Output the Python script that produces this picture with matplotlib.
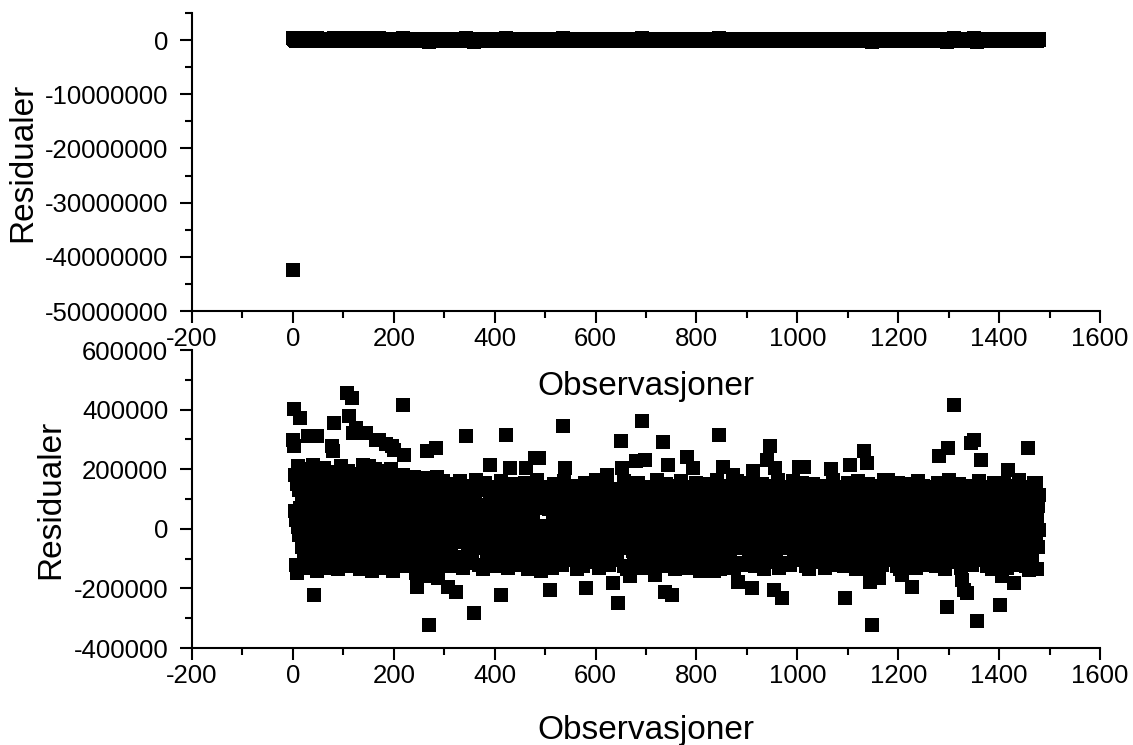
import numpy as np
import matplotlib
matplotlib.use("Agg")
import matplotlib.pyplot as plt
from matplotlib.ticker import MultipleLocator, FormatStrFormatter

plt.rcParams['font.family'] = ['Liberation Sans', 'DejaVu Sans']
plt.rcParams['axes.unicode_minus'] = False

# residualer (i tusen), observasjon 1..1480, lest av bildet (kjernen av baandet)
res_001_300 = [
    12, 95, -40, 180, 60, -120, 30, 150, -80, 210, 5, -20, 130, 70, -135, 45, 190, -60, 100, -10,
    160, -95, 25, 85, -130, 200, 40, -55, 115, 0, -110, 175, 65, -30, 140, 20, -85, 105, 215, -125,
    50, 125, -70, 15, 185, -45, 90, -140, 155, 35, -15, 110, -100, 195, 75, -65, 10, 145, -120, 60,
    205, -35, 120, -90, 40, 170, -5, 80, -130, 135, 55, -75, 190, 25, -50, 100, -115, 160, 30, -25,
    140, 70, -105, 180, 5, -60, 115, 45, -135, 95, 165, -20, 60, -95, 210, 15, -40, 130, 85, -125,
    25, 175, -80, 110, -30, 150, 65, -120, 195, 0, -55, 135, 90, -100, 40, 185, -15, 120, -70, 55,
    160, -40, 80, -125, 205, 30, -65, 145, 10, -95, 115, 50, -135, 170, 75, -10, 100, -85, 190, 20,
    -50, 130, 60, -110, 180, 5, -75, 155, 95, -30, 210, -120, 45, 125, -5, 85, -140, 165, 35, -60,
    105, -90, 200, 15, -45, 140, 70, -115, 175, 25, -20, 120, -80, 55, 195, -35, 90, -130, 150, 0,
    65, -105, 185, 40, -70, 115, 10, -125, 160, 80, -25, 135, -95, 200, 30, -55, 100, 50, -140, 170,
    20, 145, -60, 95, -115, 170, 35, -20, 120, -85, 60, 155, -40, 5, 130, -105, 80, 180, -70, 45,
    -10, 110, -125, 150, 25, -50, 90, 140, -90, 15, 165, -30, 70, -120, 125, 50, -5, 100, -75, 175,
    35, -100, 135, 60, -45, 160, 0, -130, 115, 85, -15, 145, -65, 30, 105, -110, 170, 40, -35, 95,
    150, -80, 20, 125, -55, 75, 165, -25, 10, -95, 140, 55, -120, 110, 45, -40, 155, -70, 90, 5,
    -115, 130, 65, -10, 175, -85, 30, 100, -50, 145, 15, -125, 80, 120, -35, 60, 160, -100, 40, 115,
]
res_301_600 = [
    40, -30, 75, 95, 10, 120, 55, -60, 30, 85, -15, 20, 60, -85, 105, 45, 0, 70, -45, 35,
    90, -20, 15, 65, -55, 40, 135, -5, 25, 80, 50, -95, 60, 100, 30, -35, 5, 110, -10, 50,
    -25, 70, 100, 0, 35, 55, -75, 125, 20, -40, 85, 45, -50, 15, 95, 60, -20, 65, 80, -105,
    55, 105, 25, -65, 75, 30, 50, -30, 90, 40, -10, 140, 15, -55, 60, 80, -25, 20, 5, 70,
    115, -45, 45, 20, -80, 95, 35, 10, 65, -35, 85, 30, -60, 75, 0, 50, 105, -15, 25, -70,
    60, 85, -20, 10, 100, -50, 40, 75, 15, 35, -40, 65, 130, -90, 55, 20, 90, -30, 45, 5,
    -60, 30, 80, 55, -10, 120, 25, -70, 70, 45, -35, 95, 0, 60, -100, 85, 30, -15, 50, 75,
    25, -45, 110, 40, 5, 70, -75, 35, 90, 55, -25, 15, 100, -55, 45, 80, -5, 20, 65, -40,
    95, 20, -65, 60, 35, -15, 85, 125, -50, 10, 70, -85, 45, 90, 0, 30, -30, 75, 55, -20,
    5, 85, 50, -80, 105, 25, -35, 60, 80, -5, 40, -60, 135, 15, -45, 70, 30, 10, 95, -70,
    75, -25, 35, 100, -55, 20, 65, -90, 50, 115, -10, 5, 85, -40, 60, 30, -65, 105, 45, 0,
    -35, 60, 90, 10, -70, 80, 40, -5, 120, 50, -50, 70, 20, -30, 95, 55, -95, 35, 65, 15,
    50, -60, 20, 110, 40, -15, 75, -45, 100, 25, 5, 60, -75, 85, 45, 10, -35, 130, 30, -50,
    85, 35, -40, 65, -5, 115, 15, -70, 55, 95, -25, 45, -85, 70, 20, 105, -10, 50, -55, 60,
    -10, 100, 55, -75, 25, 80, -35, 10, 125, -50, 65, 40, 0, 90, -80, 45, 75, -20, 5, 95,
]
res_601_900 = [
    45, -85, 90, 25, -25, 70, 110, -45, 35, 60, -5, 95, -65, 15, 80, 50, -40, 140, 0, -55,
    75, 30, -55, 105, 45, 5, 65, -90, 85, 40, -20, 55, 100, -60, 20, 75, -30, 50, 0, 90,
    -40, 60, 20, 120, -70, 35, 80, -10, 50, 95, -55, 10, 70, 45, -25, 110, -80, 25, 65, 85,
    5, 85, -35, 55, 95, -65, 30, 75, 0, 130, -50, 40, 65, -75, 20, 100, -15, 45, 80, -40,
    100, -5, 50, -60, 75, 35, -30, 115, 15, -90, 60, 90, -20, 45, -55, 70, 20, 105, 0, 55,
    -25, 75, 110, -45, 25, 60, -70, 85, 40, 0, 95, -60, 20, 65, 120, -35, 35, -85, 80, 50,
    65, -15, 35, 90, -55, 10, 135, -40, 55, 70, -75, 30, 100, -20, 80, 45, -65, 5, 60, 105,
    -5, 95, -50, 25, 70, -30, 100, 50, -80, 40, 75, -15, 60, 115, -60, 15, 85, -40, 35, 65,
    80, 45, -65, 125, -10, 55, 30, -85, 90, 65, -25, 50, -55, 75, 0, 105, -35, 25, 90, -5,
    55, -40, 80, 35, 110, -70, 20, 60, -20, 85, 45, -55, 130, 10, -30, 70, 95, -90, 40, 50,
    105, 5, -45, 65, -15, 90, 35, -65, 80, 50, -5, 120, -75, 30, 60, -35, 75, 100, -25, 15,
    -55, 85, 45, 0, 100, -40, 60, 20, -80, 90, 40, -20, 70, 115, -60, 30, 50, -10, 80, -30,
    30, 65, -70, 105, 10, -25, 85, 55, -45, 125, 25, -90, 60, 95, -15, 40, -40, 70, 110, 0,
    90, -20, 55, -60, 75, 40, -5, 120, -75, 35, 65, 85, -35, 15, 100, -65, 50, 60, -10, 80,
    -45, 15, 105, 70, -25, 50, 90, -60, 25, 65, -40, 135, 35, -85, 80, 55, -15, 95, 0, -50,
]
res_901_1200 = [
    70, 100, -10, 40, -65, 85, 30, -30, 115, 60, -80, 10, 80, -45, 35, 95, -20, 55, 75, -70,
    20, -35, 80, 110, -55, 30, 65, -5, 90, -75, 45, 125, -25, 5, 75, -60, 60, 85, 35, -15,
    105, 50, -70, 20, 95, -20, 55, 75, -45, 40, -85, 130, 25, -5, 70, 90, -40, 35, -55, 60,
    -15, 75, 35, -50, 115, 15, 85, -35, 50, 100, -65, 30, 60, -10, 105, 45, -80, 80, 10, 90,
    50, -60, 95, 65, -5, 35, -45, 120, 25, 75, -25, 55, -75, 90, 5, -30, 70, 110, -55, 30,
    85, 10, -30, 100, 55, -70, 40, 80, -15, 125, -45, 30, 65, -85, 85, 50, 0, 95, -40, 20,
    -65, 60, 115, 30, -20, 75, -50, 45, 90, -5, 65, 105, -35, 15, 80, -75, 55, 35, -10, 135,
    40, -40, 70, 90, -60, 20, 100, -25, 55, 5, -80, 95, 45, -5, 120, 65, -50, 25, 75, -30,
    95, -10, 50, -75, 80, 40, -35, 110, 10, 65, -55, 85, 30, -20, 105, -65, 55, 70, 0, 35,
    -85, 75, 25, 115, -30, 60, 90, -45, 15, 70, 45, -70, 100, -15, 50, 85, -40, 5, 65, 125,
    30, 120, -55, 45, 75, -5, 90, -80, 40, 100, -35, 60, 20, -65, 95, 50, -20, 80, 0, -45,
    65, -25, 105, 15, -50, 85, 40, -75, 130, 55, -10, 35, 90, -60, 70, 10, -35, 110, 50, -5,
    -30, 95, 55, -70, 40, 115, -20, 65, 5, 85, -55, 45, 75, -90, 25, 100, -30, 60, 95, -45,
    80, 20, -60, 70, 105, -35, 30, 125, -10, 50, -80, 90, 40, -40, 65, 110, 0, 30, -65, 75,
    40, -50, 90, -5, 65, 100, -70, 45, 20, -30, 120, 55, -55, 80, 10, -20, 105, 40, -85, 70,
]
res_1201_1480 = [
    115, -5, 45, 85, -65, 30, 70, -40, 105, 5, -90, 60, 95, -25, 50, 25, -55, 80, 130, -15,
    -45, 70, 100, -20, 15, 90, -75, 55, 40, -10, 100, 70, -60, 35, 120, -35, 50, 85, 0, -70,
    60, 95, -30, 25, 115, -55, 80, 45, -5, 105, -45, 30, 70, -80, 90, 55, -20, 10, 100, -40,
    20, -70, 75, 110, -15, 50, -50, 100, 35, 85, -30, 125, 0, -65, 60, 90, -25, 45, -90, 70,
    100, 40, -45, 65, 10, -80, 115, 50, -20, 85, -55, 30, 95, 0, 60, -35, 75, 105, -70, 45,
    -25, 80, 25, -60, 100, 55, -10, 120, -40, 45, 70, -75, 90, 15, -30, 65, 105, -50, 35, 85,
    50, -85, 110, 40, -5, 75, -45, 90, 5, 130, -65, 35, 65, -20, 95, 50, -35, 80, -55, 20,
    95, -20, 60, 85, -70, 30, 115, -30, 55, -5, 80, 105, -55, 40, -45, 70, 10, -80, 90, 45,
    0, 110, -50, 35, 65, -30, 90, 50, -75, 80, 20, -15, 105, 60, -60, 45, 100, -40, 15, 75,
    70, 25, -65, 95, 45, -85, 75, 115, -25, 0, 85, -45, 40, 125, -10, 60, -70, 30, 100, -35,
    45, 90, -20, 55, 110, -60, 10, 75, -40, 100, 35, -80, 85, 120, -30, 50, -5, 95, -55, 25,
    -70, 65, 105, 20, -35, 80, 50, -10, 115, -60, 40, 95, 0, 70, -85, 60, 30, 125, -45, 75,
    90, -45, 15, 110, 45, -25, 70, -65, 100, 25, 85, -35, 60, -5, 120, -75, 40, 90, 5, -20,
    60, 105, -40, 35, -80, 95, 70, -15, 50, 130, -55, 10, 80, -30, 100, 40, -60, 75, 115, -5,
]

# kanten av baandet (observasjon, residual i tusen)
upper_edge_obs = [311, 320, 331, 342, 350, 363, 372, 381, 393, 401, 412, 422, 433, 441, 452, 461,
                  470, 483, 494, 506, 517, 524, 538, 549, 560, 570, 579, 591, 601, 611, 618, 631,
                  640, 656, 665, 673, 684, 701, 711, 721, 729, 740, 749, 762, 770, 779, 791, 800,
                  811, 820, 828, 841, 850, 862, 869, 880, 891, 899, 908, 920, 929, 939, 951, 961,
                  973, 981, 991, 999, 1010, 1020, 1031, 1040, 1050, 1060, 1071, 1080, 1091, 1100,
                  1110, 1121, 1130, 1141, 1150, 1160, 1170, 1180, 1190, 1200, 1211, 1220, 1230,
                  1240, 1250, 1260, 1270, 1279, 1290, 1300, 1312, 1321, 1330, 1341, 1350, 1360,
                  1370, 1381, 1390, 1400, 1410, 1420, 1431, 1440, 1450, 1461, 1470]
upper_edge_val = [150, 135, 160, 125, 145, 165, 130, 155, 140, 120, 160, 135, 150, 125, 145, 155,
                  130, 165, 140, 120, 150, 135, 160, 125, 145, 130, 155, 140, 165, 120, 150, 135,
                  125, 160, 145, 130, 155, 120, 140, 165, 135, 150, 125, 145, 160, 130, 140, 155,
                  120, 150, 135, 165, 125, 145, 130, 160, 140, 120, 155, 135, 150, 125, 145, 165,
                  130, 140, 160, 120, 155, 135, 150, 125, 145, 130, 165, 140, 120, 155, 135, 160,
                  125, 150, 145, 130, 140, 165, 120, 155, 135, 150, 125, 160, 145, 130, 140, 155,
                  120, 165, 135, 150, 125, 145, 130, 160, 140, 120, 155, 135, 150, 125, 145, 165,
                  130, 140, 155]
lower_edge_obs = [306, 317, 325, 338, 346, 355, 369, 377, 386, 398, 404, 419, 427, 436, 448, 455,
                  467, 474, 486, 497, 503, 514, 526, 533, 547, 555, 564, 576, 588, 596, 607, 613,
                  627, 639, 642, 657, 663, 676, 687, 694, 706, 715, 727, 733, 745, 758, 766, 774,
                  785, 797, 803, 816, 822, 838, 846, 857, 866, 875, 888, 894, 905, 917, 926, 934,
                  947, 958, 964, 977, 986, 994, 1006, 1018, 1024, 1037, 1045, 1054, 1068, 1076,
                  1087, 1093, 1104, 1117, 1126, 1135, 1143, 1156, 1167, 1176, 1184, 1197, 1203,
                  1216, 1224, 1236, 1245, 1253, 1267, 1275, 1284, 1293, 1305, 1317, 1324, 1335,
                  1346, 1358, 1367, 1375, 1386, 1394, 1408, 1415, 1426, 1437, 1445, 1454, 1466, 1475]
lower_edge_val = [-110, -125, -100, -130, -115, -95, -120, -135, -105, -125, -110, -100, -130, -115,
                  -120, -95, -135, -105, -125, -110, -100, -130, -115, -120, -95, -105, -135, -125,
                  -110, -100, -130, -115, -120, -95, -105, -125, -135, -110, -100, -130, -115, -120,
                  -95, -125, -105, -135, -110, -100, -130, -115, -120, -95, -105, -125, -135, -110,
                  -100, -130, -115, -120, -95, -125, -105, -135, -110, -100, -130, -115, -120, -95,
                  -105, -125, -135, -110, -100, -130, -115, -120, -95, -125, -105, -135, -110, -100,
                  -130, -115, -120, -95, -105, -125, -135, -110, -100, -130, -115, -120, -95, -125,
                  -105, -135, -110, -100, -130, -115, -120, -95, -105, -125, -135, -110, -100, -130,
                  -115, -120, -95, -125, -105, -135]

# enkeltpunkter utenfor baandet (observasjon, residual i tusen)
high_obs = [1, 2, 3, 15, 30, 47, 78, 80, 82, 108, 111, 118, 120, 125, 138, 145, 164, 165, 171,
            185, 197, 200, 219, 220, 266, 284, 343, 390, 423, 430, 463, 479, 488, 535, 539, 622,
            650, 653, 681, 693, 698, 734, 744, 781, 794, 844, 853, 873, 913, 940, 946, 956, 1003,
            1013, 1066, 1105, 1132, 1138, 1172, 1281, 1298, 1310, 1344, 1351, 1364, 1417, 1457, 1473]
high_val = [299, 402, 277, 372, 313, 313, 277, 260, 355, 456, 377, 439, 322, 338, 215, 322, 193, 297,
            299, 285, 277, 265, 417, 249, 260, 271, 313, 215, 316, 204, 204, 238, 239, 346, 204, 181,
            293, 204, 226, 361, 232, 290, 215, 241, 204, 316, 209, 181, 193, 232, 277, 204, 209,
            209, 200, 215, 260, 221, 165, 245, 271, 417, 288, 299, 230, 198, 271, 154]
low_obs = [9, 42, 244, 247, 264, 270, 287, 307, 323, 360, 413, 491, 509, 582, 635, 645, 668, 718,
           738, 751, 807, 834, 883, 910, 953, 970, 1095, 1145, 1148, 1162, 1208, 1228, 1296, 1327,
           1331, 1337, 1356, 1402, 1406, 1430, 1460]
low_val = [-149, -222, -149, -194, -160, -323, -166, -194, -211, -283, -222, -143, -205, -199, -183,
           -250, -160, -155, -211, -222, -143, -143, -177, -199, -205, -233, -233, -177, -323, -166,
           -155, -194, -261, -171, -205, -216, -308, -255, -160, -183, -138]

# den store avvikeren i foerste modell
big_obs = [1]
big_val = [-42460000]

res = np.array(res_001_300 + res_301_600 + res_601_900 + res_901_1200 + res_1201_1480, dtype=float)
for o_list, v_list in [(upper_edge_obs, upper_edge_val), (lower_edge_obs, lower_edge_val),
                       (high_obs, high_val), (low_obs, low_val)]:
    for o, v in zip(o_list, v_list):
        res[o - 1] = v
res = res * 1000
obs = np.arange(1, len(res) + 1)

W, H = 1133, 745
fig = plt.figure(figsize=(W / 100, H / 100), dpi=100)
ax1 = fig.add_axes([192 / W, 1 - 311 / H, 908 / W, 298 / H])
ax2 = fig.add_axes([192 / W, 1 - 648 / H, 908 / W, 298 / H])

ms = 9.4
ax1.plot(obs, res, 's', color='black', ms=ms, mew=0)
ax1.plot(big_obs, big_val, 's', color='black', ms=ms, mew=0)
ax2.plot(obs, res, 's', color='black', ms=ms, mew=0)

ax1.set_ylim(-50000000, 5000000)
ax1.yaxis.set_major_locator(MultipleLocator(10000000))
ax1.yaxis.set_minor_locator(MultipleLocator(5000000))
ax2.set_ylim(-400000, 600000)
ax2.yaxis.set_major_locator(MultipleLocator(200000))
ax2.yaxis.set_minor_locator(MultipleLocator(100000))

for ax in (ax1, ax2):
    ax.set_xlim(-200, 1600)
    ax.xaxis.set_major_locator(MultipleLocator(200))
    ax.xaxis.set_minor_locator(MultipleLocator(100))
    ax.yaxis.set_major_formatter(FormatStrFormatter('%d'))
    ax.xaxis.set_major_formatter(FormatStrFormatter('%d'))
    for s in ('top', 'right'):
        ax.spines[s].set_visible(False)
    for s in ('left', 'bottom'):
        ax.spines[s].set_linewidth(1.5)
    ax.tick_params(which='major', length=8.6, width=1.5, labelsize=18.5)
    ax.tick_params(which='minor', length=5, width=1.5)
    ax.tick_params(axis='x', which='major', pad=3)
    ax.tick_params(axis='y', which='major', pad=8.5)
    ax.set_xlabel('Observasjoner', fontsize=24)
    ax.set_ylabel('Residualer', fontsize=24)
    ax.patch.set_alpha(0)

ax1.xaxis.set_label_coords(0.5, -0.2)
ax2.xaxis.set_label_coords(0.5, -0.225)
ax1.yaxis.set_label_coords(-0.169, 0.5)
ax2.yaxis.set_label_coords(-0.139, 0.5)

fig.savefig('out.png', dpi=100)
